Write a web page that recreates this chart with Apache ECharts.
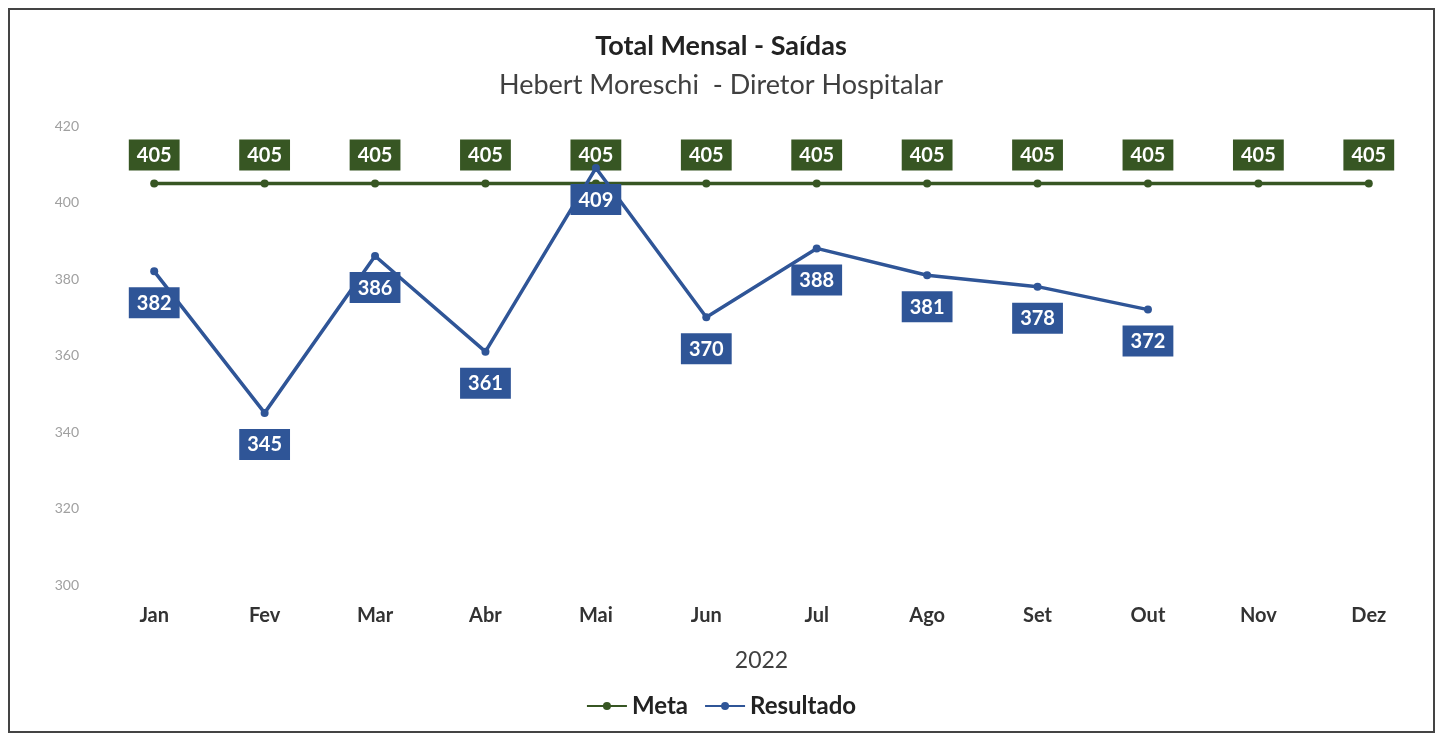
<!DOCTYPE html>
<html lang="pt">
<head>
    <meta charset="UTF-8">
    <title>Total Mensal - Saídas</title>
    <script src="https://cdn.jsdelivr.net/npm/echarts@6/dist/echarts.min.js"></script>
    <style type="text/css">
        body { margin: 0; background: #fff; }
        #main { width: 1442px; height: 735px; }
    </style>
</head>
<body>
    <div id="main"></div>
    <script type="text/javascript">
    // dados do gráfico
    var meses = ['Jan', 'Fev', 'Mar', 'Abr', 'Mai', 'Jun', 'Jul', 'Ago', 'Set', 'Out', 'Nov', 'Dez'];
    var meta = [405, 405, 405, 405, 405, 405, 405, 405, 405, 405, 405, 405];
    var resultado = [382, 345, 386, 361, 409, 370, 388, 381, 378, 372, null, null];

    var verde = '#375623';
    var azul = '#2F5597';
    var fonte = 'Lato';

    var myChart = echarts.init(document.getElementById('main'));

    var option = {
        textStyle: { fontFamily: fonte },
        title: {
            text: 'Total Mensal - Saídas',
            subtext: 'Hebert Moreschi  - Diretor Hospitalar',
            left: 'center',
            top: 28,
            itemGap: 12,
            textStyle: { fontFamily: fonte, fontSize: 27, fontWeight: 'bold', color: '#222' },
            subtextStyle: { fontFamily: fonte, fontSize: 27, color: '#404040' }
        },
        graphic: [{
            type: 'rect',
            shape: { x: 9, y: 9, width: 1425, height: 723 },
            style: { fill: 'none', stroke: '#444', lineWidth: 2 },
            silent: true
        }],
        legend: {
            bottom: 12,
            left: 'center',
            itemWidth: 40,
            itemHeight: 10,
            itemGap: 16,
            textStyle: { fontFamily: fonte, fontSize: 24, fontWeight: 'bold', color: '#222' },
            data: ['Meta', 'Resultado']
        },
        grid: {
            left: 99,
            right: 18,
            top: 126,
            bottom: 150
        },
        xAxis: {
            type: 'category',
            data: meses,
            name: '2022',
            nameLocation: 'middle',
            nameGap: 64,
            nameTextStyle: { fontFamily: fonte, fontSize: 23, color: '#404040' },
            axisLine: { show: false },
            axisTick: { show: false },
            axisLabel: { margin: 21, fontSize: 20, fontWeight: 'bold', color: '#333' }
        },
        yAxis: {
            type: 'value',
            min: 300,
            max: 420,
            interval: 20,
            splitLine: { show: false },
            axisLine: { show: false },
            axisTick: { show: false },
            axisLabel: { margin: 20, fontSize: 14, color: '#a0a0a0' }
        },
        series: [{
            name: 'Meta',
            type: 'line',
            data: meta,
            color: verde,
            symbol: 'circle',
            symbolSize: 8,
            lineStyle: { width: 3.5, color: verde },
            itemStyle: { color: verde },
            label: {
                show: true,
                position: 'top',
                distance: 9,
                backgroundColor: verde,
                color: '#fff',
                fontWeight: 'bold',
                fontSize: 20,
                padding: [6, 8, 5, 8]
            },
            z: 2
        }, {
            name: 'Resultado',
            type: 'line',
            data: resultado,
            color: azul,
            symbol: 'circle',
            symbolSize: 8,
            lineStyle: { width: 3.5, color: azul },
            itemStyle: { color: azul },
            label: {
                show: true,
                position: 'bottom',
                distance: 12,
                backgroundColor: azul,
                color: '#fff',
                fontWeight: 'bold',
                fontSize: 20,
                padding: [6, 8, 5, 8]
            },
            z: 3
        }]
    };

    myChart.setOption(option);
    </script>
</body>
</html>
